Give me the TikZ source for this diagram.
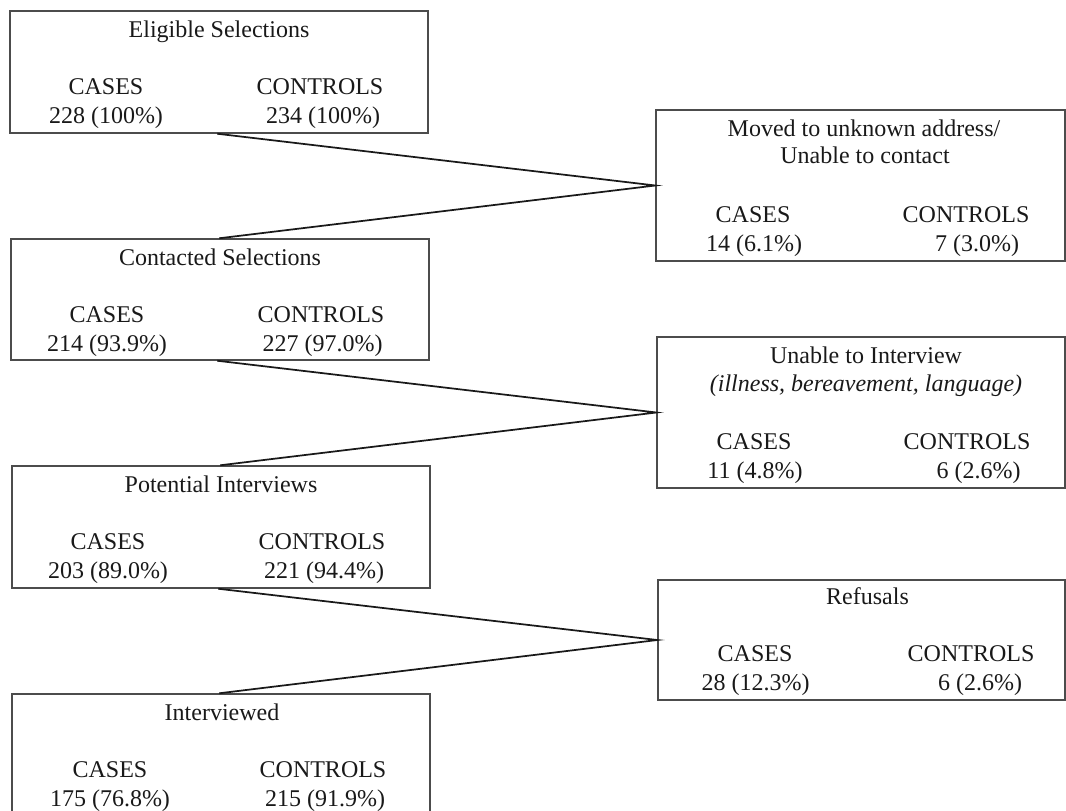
\documentclass[tikz,border=0pt]{standalone}
\usepackage{fontspec}
\setmainfont{Liberation Serif}
\usetikzlibrary{calc}
\begin{document}
\begin{tikzpicture}[x=0.75pt,y=-0.75pt,
  box/.style={draw=black!70, line width=1.1pt, rectangle, inner sep=0pt},
  txt/.style={font=\fontsize{18}{21.6}\selectfont, text=black!90, inner sep=0pt, anchor=base},
  itxt/.style={txt, font=\fontsize{18}{21.6}\selectfont\itshape},
  link/.style={draw=black!90, line width=1.3pt, line join=miter}]
\useasboundingbox (0,0) rectangle (1066,810);
\clip (0,0) rectangle (1066,810);

% left column boxes
\node[box, minimum width=313.5pt, minimum height=91.5pt]  (b1) at (219,72) {};
\node[box, minimum width=313.5pt, minimum height=90.75pt] (b2) at (220,299.5) {};
\node[box, minimum width=313.5pt, minimum height=91.5pt]  (b3) at (221,527) {};
\node[box, minimum width=313.5pt, minimum height=91.5pt]  (b4) at (221,755) {};

% right column boxes
\node[box, minimum width=306.75pt, minimum height=113.25pt] (rA) at (860.5,185.5) {};
\node[box, minimum width=306pt,    minimum height=113.25pt] (rB) at (861,412.5) {};
\node[box, minimum width=305.25pt, minimum height=90pt]     (rC) at (861.5,640) {};

% texts, box 1 (top 11)
\node[txt] (t1) at (219,37) {Eligible Selections};
\node[txt] (t1a) at (106,94) {CASES};
\node[txt] (t1b) at (320,94) {CONTROLS};
\node[txt] (t1c) at (106,123) {228 (100\%)};
\node[txt] (t1d) at (323,123) {234 (100\%)};

% box 2 (top 239)
\node[txt] (t2) at (220,265) {Contacted Selections};
\node[txt] (t2a) at (107,322) {CASES};
\node[txt] (t2b) at (321,322) {CONTROLS};
\node[txt] (t2c) at (107,351) {214 (93.9\%)};
\node[txt] (t2d) at (322.5,351) {227 (97.0\%)};

% box 3 (top 466)
\node[txt] (t3) at (221,492) {Potential Interviews};
\node[txt] (t3a) at (108,549) {CASES};
\node[txt] (t3b) at (322,549) {CONTROLS};
\node[txt] (t3c) at (108,578) {203 (89.0\%)};
\node[txt] (t3d) at (324,578) {221 (94.4\%)};

% box 4 (top 694)
\node[txt] (t4) at (222,720) {Interviewed};
\node[txt] (t4a) at (110,777) {CASES};
\node[txt] (t4b) at (323,777) {CONTROLS};
\node[txt] (t4c) at (110,806) {175 (76.8\%)};
\node[txt] (t4d) at (325,806) {215 (91.9\%)};

% box A (top 110)
\node[txt] (tA1) at (864,136) {Moved to unknown address/};
\node[txt] (tA2) at (865,163) {Unable to contact};
\node[txt] (tAa) at (753,222) {CASES};
\node[txt] (tAb) at (966,222) {CONTROLS};
\node[txt] (tAc) at (754,251) {14 (6.1\%)};
\node[txt] (tAd) at (977,251) {7 (3.0\%)};

% box B (top 337)
\node[txt] (tB1) at (866,363) {Unable to Interview};
\node[itxt] (tB2) at (866,391) {(illness, bereavement, language)};
\node[txt] (tBa) at (754,449) {CASES};
\node[txt] (tBb) at (967,449) {CONTROLS};
\node[txt] (tBc) at (755,478) {11 (4.8\%)};
\node[txt] (tBd) at (978.5,478) {6 (2.6\%)};

% box C (top 580)
\node[txt] (tC1) at (867.5,604) {Refusals};
\node[txt] (tCa) at (755,661) {CASES};
\node[txt] (tCb) at (971,661) {CONTROLS};
\node[txt] (tCc) at (755.5,690) {28 (12.3\%)};
\node[txt] (tCd) at (980,690) {6 (2.6\%)};

% connector end points
\coordinate (o1) at ($(b1.south west)+(208,0)$);
\coordinate (i2) at ($(b2.north west)+(209,0)$);
\coordinate (o2) at ($(b2.south west)+(207,0)$);
\coordinate (i3) at ($(b3.north west)+(209,0)$);
\coordinate (o3) at ($(b3.south west)+(207,0)$);
\coordinate (i4) at ($(b4.north west)+(208,0)$);

\draw[link] (o1) -- (rA.west) -- (i2);
\draw[link] (o2) -- (rB.west) -- (i3);
\draw[link] (o3) -- (rC.west) -- (i4);
\end{tikzpicture}
\end{document}
